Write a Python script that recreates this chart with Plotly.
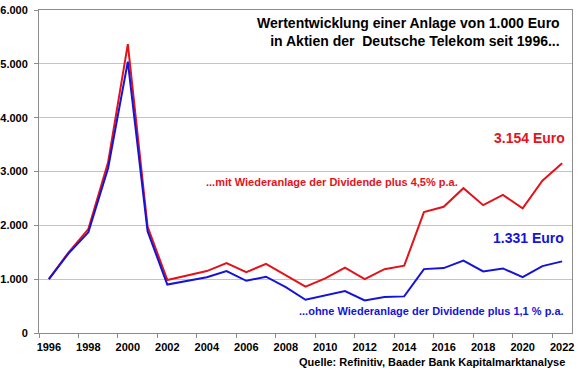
import plotly.graph_objects as go

years = list(range(1996, 2023))
mit_dividende = [1000, 1500, 1930, 3170, 5365, 1975, 985, 1065, 1150, 1300, 1130, 1285, 1080,
                 860, 1015, 1215, 1000, 1185, 1250, 2245, 2345, 2690, 2375, 2565, 2315, 2830, 3154]
ohne_dividende = [1000, 1480, 1870, 3060, 5040, 1890, 900, 970, 1035, 1150, 970, 1045, 850,
                  618, 692, 780, 605, 668, 680, 1187, 1206, 1345, 1143, 1199, 1039, 1243, 1331]

y_ticks = [0, 1000, 2000, 3000, 4000, 5000, 6000]
y_tick_labels = ["0", "1.000", "2.000", "3.000", "4.000", "5.000", "6.000"]
x_ticks = list(range(1996, 2023, 2))
x_tick_labels = [str(y) for y in x_ticks]

RED = "#e3131b"
BLUE = "#1414d8"
FONT = "Liberation Sans, Arial, sans-serif"

fig = go.Figure()
fig.add_trace(go.Scatter(x=years, y=mit_dividende, mode="lines",
                         line=dict(color=RED, width=2), showlegend=False))
fig.add_trace(go.Scatter(x=years, y=ohne_dividende, mode="lines",
                         line=dict(color=BLUE, width=2), showlegend=False))

fig.update_layout(
    width=580, height=375,
    margin=dict(l=39, r=8, t=10, b=42, autoexpand=False),
    paper_bgcolor="white", plot_bgcolor="white",
    font=dict(family=FONT, size=11, color="black"),
    xaxis=dict(range=[1995.5, 2022.5], tickvals=x_ticks, ticktext=x_tick_labels,
               ticks="", showgrid=False, showline=True, linecolor="#8c8c8c", linewidth=1,
               mirror=True, zeroline=False, automargin=False, ticklabelstandoff=4,
               tickfont=dict(family=FONT, size=11, color="black", weight="bold"),
               minor=dict(tick0=1995.5, dtick=2, ticks="outside", ticklen=4,
                          tickcolor="#8c8c8c", showgrid=False)),
    yaxis=dict(range=[0, 6000], tickvals=y_ticks, ticktext=y_tick_labels,
               ticks="outside", ticklen=4, tickcolor="#8c8c8c",
               showgrid=True, gridcolor="#c4c4c4", gridwidth=1,
               showline=True, linecolor="#8c8c8c", linewidth=1, mirror=True,
               zeroline=False, ticklabelstandoff=4, automargin=False,
               tickfont=dict(family=FONT, size=11, color="black", weight="bold")),
)

ann = [
    dict(text="Wertentwicklung einer Anlage von 1.000 Euro<br>in Aktien der  Deutsche Telekom seit 1996...",
         x=0.981, y=0.932, xanchor="right", yanchor="middle", align="right",
         font=dict(size=14, color="black", weight="bold")),
    dict(text="3.154 Euro", x=0.991, y=0.604, xanchor="right", yanchor="middle",
         font=dict(size=14, color=RED, weight="bold")),
    dict(text="1.331 Euro", x=0.989, y=0.294, xanchor="right", yanchor="middle",
         font=dict(size=14, color=BLUE, weight="bold")),
    dict(text="...mit Wiederanlage der Dividende plus 4,5% p.a.", x=0.309, y=0.468,
         xanchor="left", yanchor="middle", font=dict(size=11, color=RED, weight="bold")),
    dict(text="...ohne Wiederanlage der Dividende plus 1,1 % p.a.", x=0.4835, y=0.067,
         xanchor="left", yanchor="middle", font=dict(size=11, color=BLUE, weight="bold")),
    dict(text="Quelle: Refinitiv, Baader Bank Kapitalmarktanalyse", x=0.991, y=-0.091,
         xanchor="right", yanchor="middle", font=dict(size=11, color="black", weight="bold")),
]
for a in ann:
    fig.add_annotation(xref="paper", yref="paper", showarrow=False, **a)

fig.write_html("out.html", config={"displayModeBar": False},
               post_script="document.body.style.margin='0';document.body.style.overflow='hidden';")
